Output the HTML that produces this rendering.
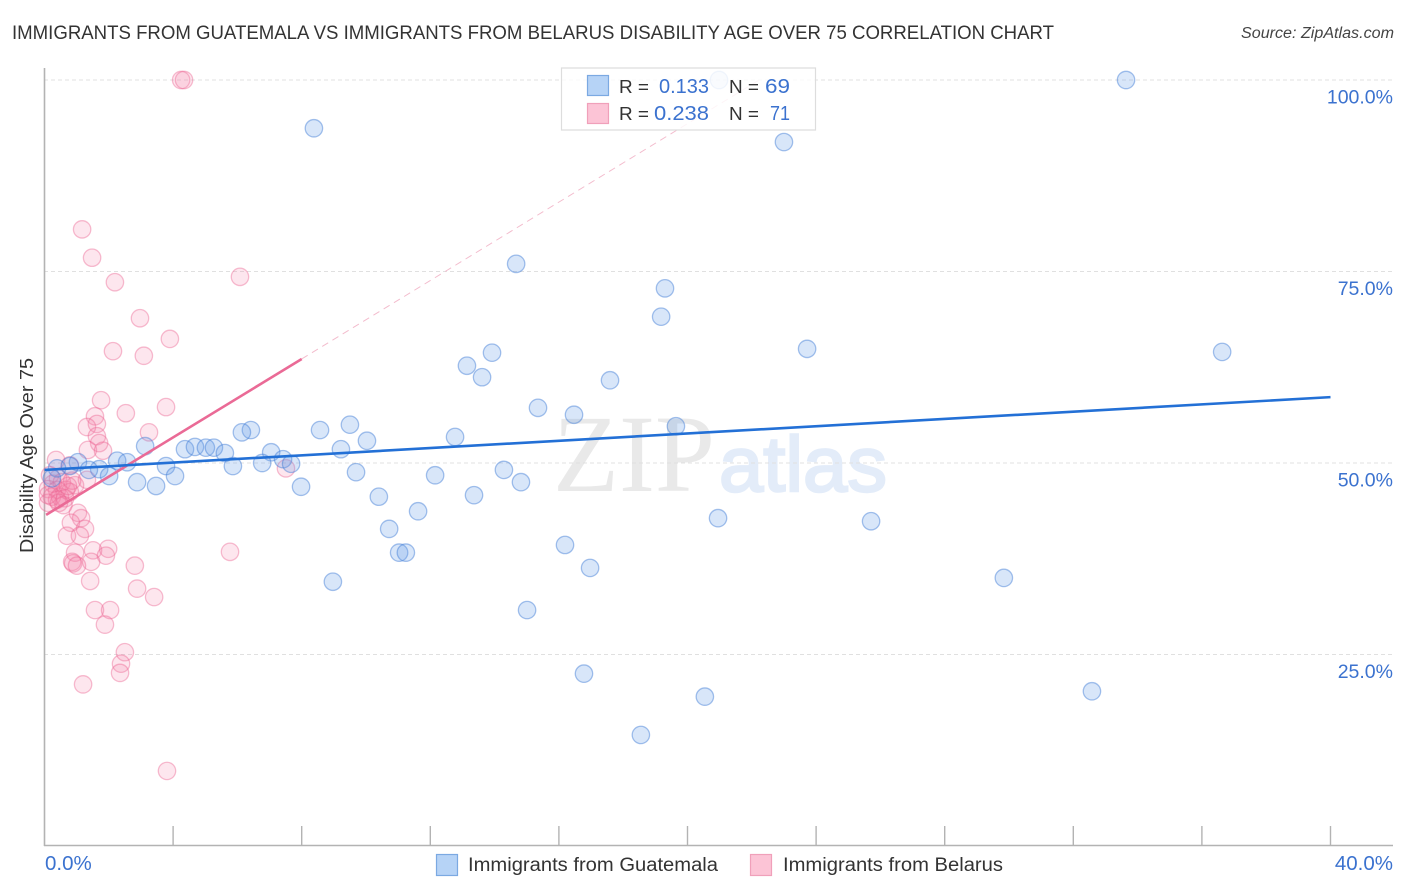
<!DOCTYPE html>
<html lang="en">
<head>
<meta charset="utf-8">
<title>Immigrants from Guatemala vs Immigrants from Belarus Disability Age Over 75 Correlation Chart</title>
<style>
html,body{margin:0;padding:0;background:#fff;width:1406px;height:892px;overflow:hidden}
svg{display:block}
text{font-family:"Liberation Sans",sans-serif}
</style>
</head>
<body>
<svg id="chart" xmlns="http://www.w3.org/2000/svg" width="1406" height="892" viewBox="0 0 1406 892">
  <rect x="0" y="0" width="1406" height="892" fill="#fff"/>
  <text x="12" y="39" font-size="19.5" fill="#333" textLength="1042" lengthAdjust="spacingAndGlyphs">IMMIGRANTS FROM GUATEMALA VS IMMIGRANTS FROM BELARUS DISABILITY AGE OVER 75 CORRELATION CHART</text>
  <text x="1241" y="38" font-size="15.5" font-style="italic" fill="#444" textLength="153" lengthAdjust="spacingAndGlyphs">Source: ZipAtlas.com</text>

  <text x="553" y="491" font-size="110" fill="#e9e9e9" textLength="162" lengthAdjust="spacingAndGlyphs" style="font-family:'Liberation Serif',serif">ZIP</text>
  <text x="719" y="491" font-size="78" fill="#e3ecf9" stroke="#e3ecf9" stroke-width="2.4" textLength="168" lengthAdjust="spacingAndGlyphs">atlas</text>

  <g id="grid"></g>
  <g id="axes"></g>
  <g id="pink-points"></g>
  <g id="blue-points"></g>
  <g id="trends"></g>
  <g id="labels"></g>

  <text transform="translate(33,553) rotate(-90)" font-size="18" fill="#333" textLength="195" lengthAdjust="spacingAndGlyphs">Disability Age Over 75</text>

  <g>
    <rect x="561.5" y="68" width="254" height="62" fill="#fff" fill-opacity="0.84" stroke="#ddd" stroke-width="1.2"/>
    <rect x="587.5" y="75.5" width="21" height="20" fill="#b6d3f6" stroke="#7ba9e2" stroke-width="1.2"/>
    <rect x="587.5" y="103.5" width="21" height="20" fill="#fcc4d6" stroke="#f0a0ba" stroke-width="1.2"/>
    <text x="619" y="93" font-size="18.5" fill="#333" textLength="30" lengthAdjust="spacingAndGlyphs">R =</text>
    <text x="659" y="93" font-size="20.5" fill="#3b72cf" textLength="50" lengthAdjust="spacingAndGlyphs">0.133</text>
    <text x="729" y="93" font-size="18.5" fill="#333" textLength="30" lengthAdjust="spacingAndGlyphs">N =</text>
    <text x="765" y="93" font-size="20.5" fill="#3b72cf" textLength="25" lengthAdjust="spacingAndGlyphs">69</text>
    <text x="619" y="120" font-size="18.5" fill="#333" textLength="30" lengthAdjust="spacingAndGlyphs">R =</text>
    <text x="654" y="120" font-size="20.5" fill="#3b72cf" textLength="55" lengthAdjust="spacingAndGlyphs">0.238</text>
    <text x="729" y="120" font-size="18.5" fill="#333" textLength="30" lengthAdjust="spacingAndGlyphs">N =</text>
    <text x="770" y="120" font-size="20.5" fill="#3b72cf" textLength="20" lengthAdjust="spacingAndGlyphs">71</text>
  </g>

  <g>
    <rect x="436.5" y="854.5" width="21" height="21" fill="#b6d3f6" stroke="#7ba9e2" stroke-width="1.2"/>
    <text x="468" y="871" font-size="19" fill="#333" textLength="250" lengthAdjust="spacingAndGlyphs">Immigrants from Guatemala</text>
  </g>
  <g>
    <rect x="750.5" y="854.5" width="21" height="21" fill="#fcc4d6" stroke="#f0a0ba" stroke-width="1.2"/>
    <text x="783" y="871" font-size="19" fill="#333" textLength="220" lengthAdjust="spacingAndGlyphs">Immigrants from Belarus</text>
  </g>
</svg>
<script>
const guatemalaX = [8.38,33.64,23.00,20.98,14.67,19.30,19.18,23.72,36.63,13.92,13.14,13.61,17.59,15.35,16.47,9.50,8.57,6.42,6.14,19.64,10.03,12.77,3.13,9.22,4.37,4.68,5.02,5.27,5.61,7.05,7.42,7.67,6.77,5.86,2.26,2.57,3.78,1.04,0.79,1.70,1.38,2.01,4.06,2.88,3.47,9.69,12.15,14.29,14.82,7.98,10.40,13.36,11.62,20.95,25.71,10.72,16.19,11.03,11.24,16.97,8.97,29.84,15.01,16.78,20.54,32.58,18.55,0.39,0.23];
const guatemalaY = [93.7,100,91.9,100,76.0,72.8,69.1,64.9,64.5,64.4,62.7,61.2,60.8,57.2,56.3,55.0,54.3,54.3,54.0,54.8,52.9,53.4,52.2,51.8,51.8,52.1,52.0,52.0,51.3,51.4,50.5,49.9,50.0,49.6,50.3,50.1,49.6,50.1,49.6,49.2,49.1,48.3,48.3,47.5,47.0,48.8,48.4,49.1,47.5,46.9,45.6,45.8,43.7,42.8,42.4,41.4,39.3,38.3,38.3,36.3,34.5,35.0,30.8,22.5,19.5,20.2,14.5,49.3,48.0];
const belarusX = [4.25,4.34,1.17,1.48,6.08,2.19,2.97,3.90,2.13,3.09,1.76,3.78,2.53,1.57,1.63,1.32,3.25,1.63,1.70,1.35,1.82,0.36,0.79,7.51,0.17,0.42,0.26,0.54,0.11,0.39,0.67,0.95,0.79,0.23,0.48,0.64,0.11,0.39,0.59,0.45,1.32,0.86,1.04,1.14,0.82,1.26,0.70,1.10,0.95,1.51,1.98,1.91,1.45,0.86,0.89,1.01,1.42,2.81,2.88,3.41,1.57,2.04,1.88,2.50,2.38,2.35,1.20,5.77,3.81,0.11,0.73];
const belarusY = [100,100,80.5,76.8,74.3,73.6,68.9,66.2,64.6,64.0,58.2,57.3,56.5,56.1,55.1,54.7,54.0,53.5,52.6,51.7,51.6,50.4,49.7,49.3,48.4,48.0,47.3,47.5,46.6,46.5,46.5,47.1,46.2,45.6,45.6,45.4,44.8,45.2,44.5,44.8,47.8,47.7,43.5,42.8,42.2,41.4,40.5,40.5,38.3,38.6,38.8,37.9,37.1,37.1,36.9,36.6,34.6,36.6,33.6,32.5,30.8,30.8,28.9,25.3,23.8,22.6,21.1,38.4,9.8,45.8,47.0];
const xTickValues = [0,4,8,12,16,20,24,28,32,36,40];
const xTickLabels = ["0.0%","40.0%"];
const yTickValues = [100,75,50,25];
const yTickLabels = ["100.0%","75.0%","50.0%","25.0%"];
const guatemalaTrend = [49.1,58.6];
const belarusTrendIntercept = [43.1];
const belarusTrendSlope = [2.56];
const belarusSolidEnd = [8.0];
const belarusDashEndY = [100];

const NS = "http://www.w3.org/2000/svg";
function sx(v){ return 44.5 + 32.15 * v; }
function sy(v){ return 846 - 7.66 * v; }
function make(tag, parentId, attrs){
  const el = document.createElementNS(NS, tag);
  Object.keys(attrs).forEach(function(k){ el.setAttribute(k, attrs[k]); });
  document.getElementById(parentId).appendChild(el);
  return el;
}

yTickValues.forEach(function(v, i){
  const line = make("line", "grid", {x1:44, x2:1393, y1:sy(v), y2:sy(v), stroke:"#e0e0e0", "stroke-width":1, "stroke-dasharray":"4 3"});
  
  
  const label = make("text", "labels", {x:1393, y:sy(v)+23.5, "text-anchor":"end", "font-size":19.5, fill:"#3b72cf"});
  label.textContent = yTickLabels[i];
  
  
});

const yAxis = make("line", "axes", {x1:44.5, x2:44.5, y1:68, y2:846, stroke:"#b3b3b3", "stroke-width":1.6});


const xAxis = make("line", "axes", {x1:44, x2:1393, y1:845.5, y2:845.5, stroke:"#b3b3b3", "stroke-width":1.6});


xTickValues.slice(1).forEach(function(v){
  const t = make("line", "axes", {x1:sx(v), x2:sx(v), y1:826, y2:846, stroke:"#b3b3b3", "stroke-width":1.4});
  
  
});

const xLow = make("text", "labels", {x:45, y:870, "font-size":20.5, fill:"#3b72cf"});
xLow.textContent = xTickLabels[0];


const xHigh = make("text", "labels", {x:1393, y:870, "text-anchor":"end", "font-size":20.5, fill:"#3b72cf"});
xHigh.textContent = xTickLabels[1];



belarusX.forEach(function(v, i){
  const c = make("circle", "pink-points", {cx:sx(v), cy:sy(belarusY[i]), r:8.7, fill:"rgba(246,130,170,0.2)", stroke:"rgba(236,100,145,0.42)", "stroke-width":1.3});
  
  
});
guatemalaX.forEach(function(v, i){
  const c = make("circle", "blue-points", {cx:sx(v), cy:sy(guatemalaY[i]), r:8.7, fill:"rgba(105,160,232,0.26)", stroke:"rgba(65,125,215,0.47)", "stroke-width":1.3});
  
  
});

const b0 = belarusTrendIntercept[0], b1 = belarusTrendSlope[0];
const pinkDash = make("line", "trends", {x1:sx(belarusSolidEnd[0]), y1:sy(b0+b1*belarusSolidEnd[0]), x2:sx((belarusDashEndY[0]-b0)/b1), y2:sy(belarusDashEndY[0]), stroke:"#f3bccd", "stroke-width":1, "stroke-dasharray":"7 5"});


const pinkSolid = make("line", "trends", {x1:sx(0.05), y1:sy(b0+b1*0.05), x2:sx(belarusSolidEnd[0]), y2:sy(b0+b1*belarusSolidEnd[0]), stroke:"#ea6a96", "stroke-width":2.6});


const blueLine = make("line", "trends", {x1:sx(0), y1:sy(guatemalaTrend[0]), x2:sx(40), y2:sy(guatemalaTrend[1]), stroke:"#2370d6", "stroke-width":2.6});


</script>
</body>
</html>
